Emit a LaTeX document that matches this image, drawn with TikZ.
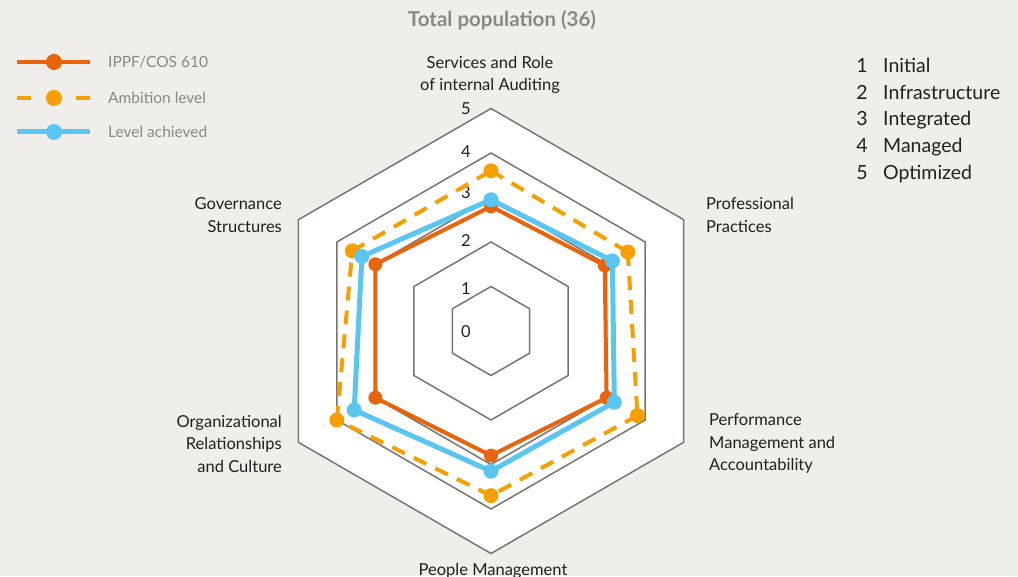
\documentclass[tikz,border=0pt]{standalone}
\usepackage{fontspec}
\setmainfont{Lato}
\usetikzlibrary{positioning}
\definecolor{paper}{RGB}{239,238,234}
\definecolor{gridgray}{RGB}{120,117,112}
\definecolor{ippforange}{RGB}{232,101,14}
\definecolor{ambyellow}{RGB}{245,160,0}
\definecolor{achblue}{RGB}{91,197,242}
\definecolor{softgray}{RGB}{138,135,132}
\definecolor{inkdark}{RGB}{35,31,32}
\tikzset{
    hexline/.style={draw=gridgray,line width=1.5pt,line join=miter},
    ippfline/.style={draw=ippforange,line width=4pt},
    ambline/.style={draw=ambyellow,line width=4pt,dash pattern=on 14pt off 10pt},
    achline/.style={draw=achblue,line width=5pt},
    axislabel/.style={font=\fontsize{16.5}{22.5}\selectfont,text=inkdark,inner sep=0pt},
    legendtext/.style={font=\fontsize{15.5}{18}\selectfont,text=softgray,inner sep=0pt,anchor=west},
    scaletext/.style={font=\fontsize{19.5}{22}\selectfont,text=inkdark,inner sep=0pt}
}
\begin{document}
\begin{tikzpicture}[x=1pt,y=1pt]
\fill[paper] (0,0) rectangle (1018,576);
\useasboundingbox (0,0) rectangle (1018,576);
% title
\node[font=\fontsize{20.5}{24}\selectfont\bfseries,text=softgray,inner sep=0pt] (title) at (502,556) {Total population (36)};
% legend
\coordinate (ippfa) at (17,514);  \coordinate (ippfb) at (90,514);
\coordinate (amba) at (17,478);   \coordinate (ambb) at (90,478);
\coordinate (acha) at (17,444);   \coordinate (achb) at (90,444);
\draw[ippfline] (ippfa) -- (ippfb);
\draw[ambline,dash pattern=on 14pt off 45pt on 14pt] (amba) -- (ambb);
\draw[achline] (acha) -- (achb);
\fill[ippforange] (54,514) circle (8);
\fill[ambyellow] (54,478) circle (8);
\fill[achblue] (54,444) circle (8);
\node[legendtext,right=18pt of ippfb] (ippftext) {IPPF/COS 610};
\node[legendtext,right=18pt of ambb] (ambtext) {Ambition level};
\node[legendtext,right=18pt of achb] (achtext) {Level achieved};
% maturity scale
\foreach \n/\name [count=\k] in {1/Initial,2/Infrastructure,3/Integrated,4/Managed,5/Optimized} {
    \node[scaletext,anchor=base] (num\k) at (862,503.5-26.75*\k+26.75) {\n};
    \node[scaletext,anchor=base west] (lvl\k) at (883,503.5-26.75*\k+26.75) {\name};
}
\begin{scope}[shift={(491,245)}]
    % hexagon grid
    \filldraw[hexline,fill=white] (90:222.5) \foreach \a in {30,-30,-90,-150,150} {-- (\a:222.5)} -- cycle;
    \foreach \r in {1,...,4}
        \draw[hexline] (90:\r*44.5) \foreach \a in {30,-30,-90,-150,150} {-- (\a:\r*44.5)} -- cycle;
    \foreach \r/\y in {0/-1,1/42,2/90,3/138,4/179,5/222}
        \node[axislabel] (tick\r) at (-25,\y) {\r};
    % axis labels
    \node[axislabel,align=center] (services) at (-1,256) {Services and Role\\of internal Auditing};
    \node[axislabel,align=left,anchor=west] (professional) at (215,116) {Professional\\Practices};
    \node[axislabel,align=left,anchor=west] (performance) at (218,-112.5) {Performance\\Management and\\Accountability};
    \node[axislabel,anchor=base] (people) at (2,-244.5) {People Management};
    \node[axislabel,align=right,anchor=east] (organizational) at (-209,-112.5) {Organizational\\Relationships\\and Culture};
    \node[axislabel,align=right,anchor=east] (governance) at (-209,116) {Governance\\Structures};
    % data points
    \foreach \a/\v [count=\k] in {90/2.8,30/2.95,-30/3.0,-90/2.8,210/3.0,150/3.0}
        \coordinate (i\k) at (\a:\v*44.5);
    \foreach \a/\v [count=\k] in {90/3.6,30/3.55,-30/3.8,-90/3.7,210/4.0,150/3.6}
        \coordinate (m\k) at (\a:\v*44.5);
    \foreach \a/\v [count=\k] in {90/2.95,30/3.15,-30/3.2,-90/3.15,210/3.55,150/3.35}
        \coordinate (l\k) at (\a:\v*44.5);
    % IPPF/COS 610
    \draw[ippfline] (i1) -- (i2) -- (i3) -- (i4) -- (i5) -- (i6) -- cycle;
    \foreach \k in {1,...,6} \fill[ippforange] (i\k) circle (7);
    % ambition level
    \foreach \k/\j in {1/2,2/3,3/4,4/5,5/6,6/1} \draw[ambline] (m\k) -- (m\j);
    \foreach \k in {1,...,6} \fill[ambyellow] (m\k) circle (7.5);
    % level achieved
    \draw[achline] (l1) -- (l2) -- (l3) -- (l4) -- (l5) -- (l6) -- cycle;
    \foreach \k in {1,...,6} \fill[achblue] (l\k) circle (7.5);
\end{scope}
\end{tikzpicture}
\end{document}
